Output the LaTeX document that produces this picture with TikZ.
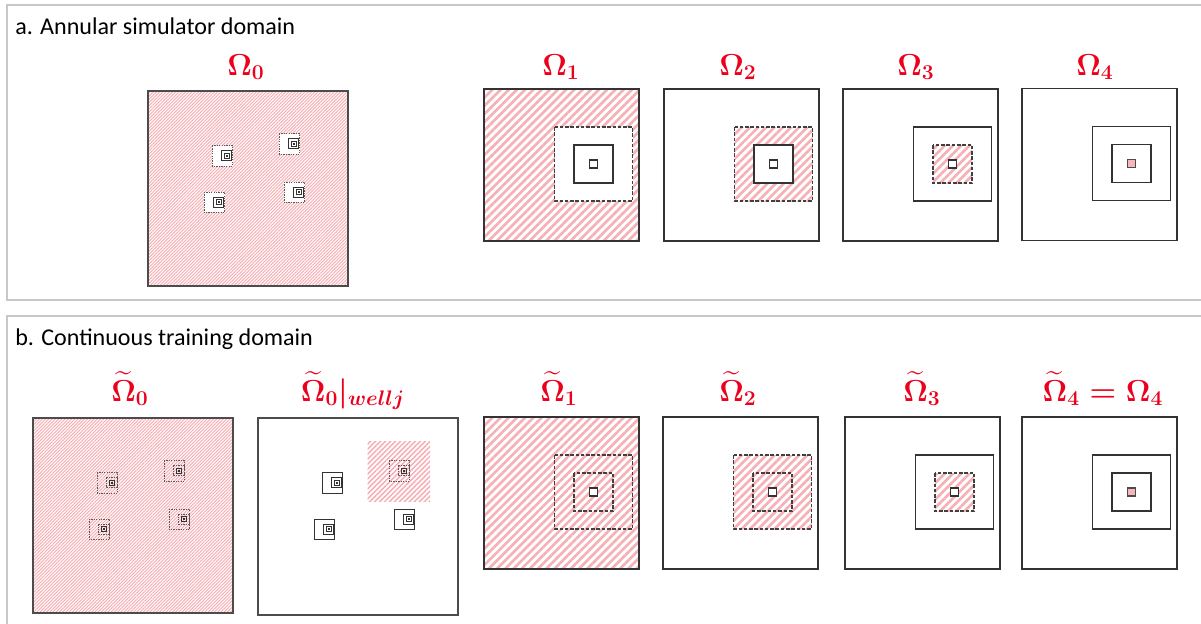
\documentclass[tikz,border=0pt]{standalone}
\usepackage{amsmath,amssymb}
\usepackage{fontspec}
\newfontfamily\titlefont{Carlito}
\usetikzlibrary{patterns.meta}

\definecolor{labelred}{RGB}{236,0,28}
\definecolor{hatchpink}{RGB}{246,176,181}
\definecolor{cellpink}{RGB}{246,182,186}
\definecolor{framegray}{RGB}{200,200,200}

% nested annuli: #1 scope options, #2 outer, #3 ring 2, #4 ring 3, #5 well cell
\newcommand{\annuli}[5]{%
  \begin{scope}[#1]
    \draw[#2] (0,0) rectangle (155,152);
    \draw[#3] (70.5,38) rectangle (148.5,112);
    \draw[#4] (90,56) rectangle (129,94);
    \draw[#5] (105.5,71) rectangle (113.5,79);
  \end{scope}}

\begin{document}
\begin{tikzpicture}
    [x=0.02cm, y=-0.02cm,
    domainbox/.style={draw=black!80, line width=0.9pt},
    bigbox/.style={draw=black!70, line width=0.6pt},
    dashring/.style={draw=black!75, line width=0.8pt, dash pattern=on 2pt off 1pt},
    hatch/.style={preaction={solid, pattern={Lines[angle=45,distance=3.3pt,line width=1.5pt]}, pattern color=hatchpink}},
    midhatch/.style={preaction={solid, pattern={Lines[angle=45,distance=2pt,line width=0.9pt]}, pattern color=hatchpink}},
    finehatch/.style={preaction={solid, pattern={Lines[angle=45,distance=1.3pt,line width=0.6pt]}, pattern color=hatchpink}},
    welledge/.style={draw=black!65, line width=0.4pt, dash pattern=on 0.8pt off 0.6pt},
    wellring/.style={draw=black!80, line width=0.5pt},
    wellcell/.style={draw=black!70, line width=0.6pt, fill=cellpink},
    lbl/.style={text=labelred, font=\fontsize{16.5}{18}\selectfont\boldmath, anchor=base, inner sep=0pt},
    paneltitle/.style={font=\titlefont\fontsize{13.7}{16}\selectfont, anchor=base west, inner sep=0pt},
    panelframe/.style={draw=framegray, line width=0.8pt}]
    \useasboundingbox (0,0) rectangle (1201,623);
    \clip (0,0) rectangle (1201,623);

    %% panels
    \draw[panelframe] (7,5) rectangle (1220,300);
    \draw[panelframe] (7,316) rectangle (1220,640);
    \node[paneltitle] (ta) at (15,34) {a. Annular simulator domain};
    \node[paneltitle] (tb) at (15,345) {b. Continuous training domain};

    %% a. simulator domains
    \draw[bigbox, finehatch] (148,91) rectangle (348,286);
    \begin{scope}[shift={(148,91)}]
      \foreach \wx/\wy in {64/54.7, 131/42.7, 56/101, 136/91}
        \annuli{shift={(\wx,\wy)}, scale=0.134}{fill=white, welledge}{wellring}{wellring}{wellring};
    \end{scope}
    \annuli{shift={(484,89)}}{domainbox, hatch}{dashring, fill=white}{domainbox}{domainbox}
    \annuli{shift={(664,89)}}{domainbox}{dashring, hatch}{domainbox, fill=white}{domainbox}
    \annuli{shift={(843,89)}}{domainbox}{domainbox}{dashring, hatch}{domainbox, fill=white}
    \annuli{shift={(1022,88.5)}}{domainbox}{domainbox}{domainbox}{wellcell}

    \node[lbl] (L0) at (246,75) {$\Omega_0$};
    \node[lbl] (L1) at (561,75) {$\Omega_1$};
    \node[lbl] (L2) at (738,75) {$\Omega_2$};
    \node[lbl] (L3) at (916,75) {$\Omega_3$};
    \node[lbl] (L4) at (1095,75) {$\Omega_4$};

    %% b. training domains
    \draw[bigbox, finehatch] (33,418) rectangle (233,613);
    \begin{scope}[shift={(33,418)}]
      \foreach \wx/\wy in {64/54.7, 131/42.7, 56/101, 136/91}
        \annuli{shift={(\wx,\wy)}, scale=0.134}{welledge}{welledge}{wellring}{wellring};
    \end{scope}

    \draw[bigbox] (258,418) rectangle (458,615);
    \path[midhatch] (367.7,441) rectangle (430,501.7);
    \begin{scope}[shift={(258,418)}]
      \foreach \wx/\wy in {64/54.7, 56/101, 136/91}
        \annuli{shift={(\wx,\wy)}, scale=0.134}{fill=white, wellring}{wellring}{wellring}{wellring};
      \annuli{shift={(131,42.7)}, scale=0.134}{welledge}{welledge}{wellring}{wellring}
    \end{scope}

    \annuli{shift={(484,417)}}{domainbox, hatch}{dashring}{dashring}{domainbox, fill=white}
    \annuli{shift={(663,417)}}{domainbox}{dashring, hatch}{dashring}{domainbox, fill=white}
    \annuli{shift={(845,417)}}{domainbox}{domainbox}{dashring, hatch}{domainbox, fill=white}
    \annuli{shift={(1022,417)}}{domainbox}{domainbox}{domainbox}{wellcell}

    \node[lbl] (M0) at (130,401) {$\widetilde{\Omega}_0$};
    \node[lbl] (M0w) at (353,401) {$\widetilde{\Omega}_0|_{wellj}$};
    \node[lbl] (M1) at (559,401) {$\widetilde{\Omega}_1$};
    \node[lbl] (M2) at (738,401) {$\widetilde{\Omega}_2$};
    \node[lbl] (M3) at (922,401) {$\widetilde{\Omega}_3$};
    \node[lbl] (M4) at (1103,401) {$\widetilde{\Omega}_4 = \Omega_4$};
\end{tikzpicture}
\end{document}
